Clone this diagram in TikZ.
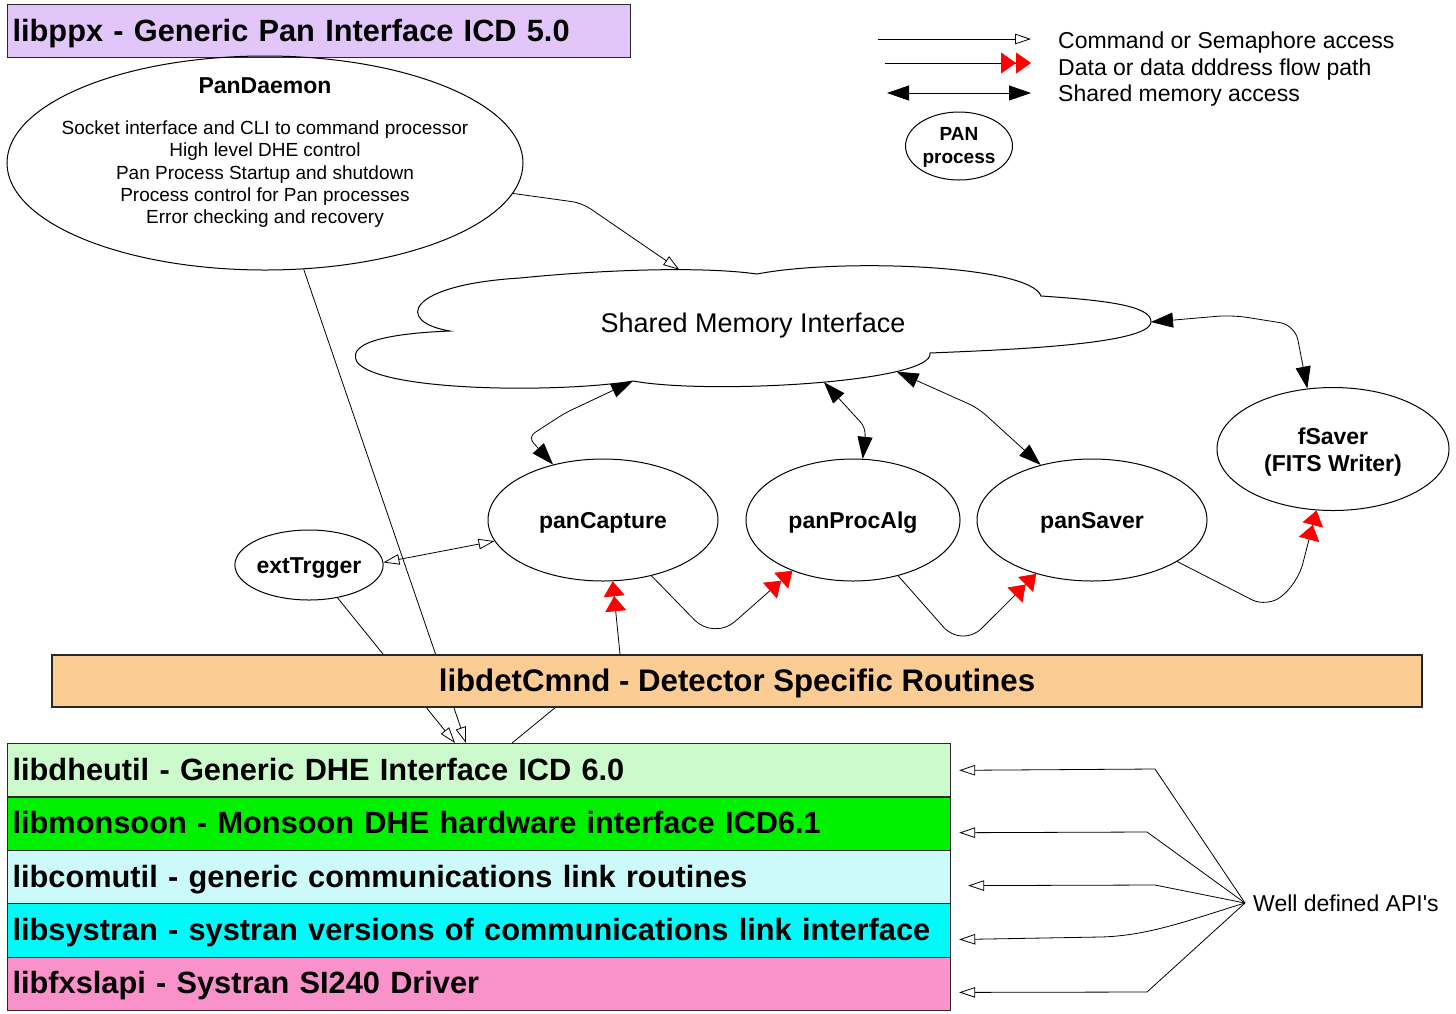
\documentclass[tikz,border=0pt]{standalone}
\usepackage{fontspec}
\setmainfont{Liberation Sans}
\usetikzlibrary{arrows.meta,shapes.geometric,calc}
\pgfdeclarelayer{bg}
\pgfsetlayers{bg,main}

\definecolor{ppxfill}{RGB}{226,198,250}
\definecolor{detfill}{RGB}{251,204,148}
\definecolor{dhefill}{RGB}{204,250,204}
\definecolor{monfill}{RGB}{0,240,0}
\definecolor{comfill}{RGB}{204,250,250}
\definecolor{sysfill}{RGB}{0,250,250}
\definecolor{fxsfill}{RGB}{249,146,202}
\definecolor{edge}{RGB}{40,40,40}

\tikzset{
  cmdhead/.tip={Triangle[open,length=16pt,width=10.5pt]},
  datahead/.tip={Triangle[red,length=15pt,width=21pt] Triangle[red,length=15pt,width=21pt]},
  shmhead/.tip={Triangle[length=22pt,width=15pt]},
  conn/.style={line width=0.8pt, draw=black},
  proc/.style={ellipse, draw, line width=1pt, inner sep=0pt, align=center,
    text height=19pt, text depth=2.5pt,
    font=\fontsize{23}{27}\selectfont\bfseries},
  libbar/.style={rectangle, draw=edge, line width=1.2pt, anchor=north west,
    minimum height=53.4pt, text width=933pt, inner xsep=5pt, inner ysep=0pt,
    align=left, text height=25pt, text depth=5pt,
    font=\fontsize{30.75}{36}\selectfont\bfseries},
  legendtext/.style={anchor=base west, inner sep=0pt, font=\fontsize{23}{27}\selectfont},
}

\newcommand{\pdtitle}{{\fontsize{23}{22}\selectfont\bfseries PanDaemon}}

\begin{document}
\begin{tikzpicture}[x=1pt,y=-1pt]
\useasboundingbox (0,0) rectangle (1456,1013);

% ---- top interface bar
\node[libbar, fill=ppxfill, text width=613pt, minimum height=53pt] (libppx) at (7,4)
  {libppx - Generic Pan Interface ICD 5.0};

% ---- daemon
\node[ellipse, draw, line width=1pt, inner sep=0pt, minimum width=516pt, minimum height=214pt]
  (PanDaemon) at (265,163) {};
\node[align=center, inner sep=0pt, font=\fontsize{19}{22.3}\selectfont] (pdText) at (265,152.5)
  {\pdtitle\\[19pt]
   Socket interface and CLI to command processor\\
   High level DHE control\\
   Pan Process Startup and shutdown\\
   Process control for Pan processes\\
   Error checking and recovery};

% ---- shared memory cloud
\draw[line width=1pt, fill=white] (450,331)
  .. controls (395,322) and (405,285) .. (520,278)
  .. controls (600,270) and (700,266) .. coordinate[pos=0.63] (smPD) (757,274)
  .. controls (840,258) and (1030,265) .. (1041,296)
  .. controls (1100,300) and (1152,305) .. (1151,322) coordinate (smFs)
  .. controls (1150,345) and (1000,350) .. (930,353)
  .. controls (935,382) and (710,395) .. coordinate[pos=0.25] (smSav) coordinate[pos=0.47] (smProc) (633,381) coordinate (smCap)
  .. controls (560,393) and (380,392) .. (357,362)
  .. controls (345,340) and (400,333) .. cycle;
\node[font=\fontsize{27}{32}\selectfont] (shm) at (753,326) {Shared Memory Interface};

% ---- processes
\node[proc, minimum width=230pt, minimum height=122pt] (panCapture) at (603,520) {panCapture};
\node[proc, minimum width=214pt, minimum height=122pt] (panProcAlg) at (853,520) {panProcAlg};
\node[proc, minimum width=230pt, minimum height=122pt] (panSaver) at (1092,520) {panSaver};
\node[proc, minimum width=232pt, minimum height=123pt, text height=46pt, text depth=1.5pt]
  (fSaver) at (1333,449) {fSaver\\(FITS Writer)};
\node[proc, minimum width=142pt, minimum height=70pt] (extTrgger) at (309,565) {extTrgger};

% ---- library stack
\node[rectangle, draw=edge, line width=1.2pt, fill=detfill, minimum width=1370pt,
  minimum height=52pt, text height=25pt, text depth=5pt,
  font=\fontsize{31.2}{36}\selectfont\bfseries] (libdetCmnd) at (737,681)
  {libdetCmnd - Detector Specific Routines};
\node[libbar, fill=dhefill] (libdheutil) at (7,743.0) {libdheutil - Generic DHE Interface ICD 6.0};
\node[libbar, fill=monfill] (libmonsoon) at (7,796.4) {libmonsoon - Monsoon DHE hardware interface ICD6.1};
\node[libbar, fill=comfill] (libcomutil) at (7,849.8) {libcomutil - generic communications link routines};
\node[libbar, fill=sysfill] (libsystran) at (7,903.2) {libsystran - systran versions of communications link interface};
\node[libbar, fill=fxsfill] (libfxslapi) at (7,956.6) {libfxslapi - Systran SI240 Driver};

\node[anchor=west, inner xsep=8pt, inner ysep=0pt, font=\fontsize{23}{27}\selectfont] (api) at (1245,903) {Well defined API\textquotesingle s};

% ---- legend
\coordinate (lgA1) at (878,39);  \coordinate (lgB1) at (1031,39);
\coordinate (lgA2) at (885,63);  \coordinate (lgB2) at (1031,63);
\coordinate (lgA3) at (887,93);  \coordinate (lgB3) at (1031,93);
\node[legendtext] (lgT1) at (1058,48) {Command or Semaphore access};
\node[legendtext] (lgT2) at (1058,75) {Data or data dddress flow path};
\node[legendtext] (lgT3) at (1058,101) {Shared memory access};
\node[proc, minimum width=107pt, minimum height=68pt, text height=37pt, text depth=1.4pt,
  font=\fontsize{19}{23}\selectfont\bfseries] (panKey) at (959,146) {PAN\\process};

\begin{pgfonlayer}{bg}
  % legend arrows
  \draw[conn, -cmdhead] (lgA1) -- (lgB1);
  \draw[conn, -datahead] (lgA2) -- (lgB2);
  \draw[conn, shmhead-shmhead] (lgA3) -- (lgB3);

  % command / semaphore access
  \draw[conn, -cmdhead, rounded corners=10pt] (PanDaemon.353) -- (582,203) -- (smPD);
  \draw[conn, -cmdhead] (PanDaemon.290) -- ($(libdheutil.north west)+(459,0)$);
  \draw[conn, -cmdhead] (extTrgger.311) -- ($(libdheutil.north west)+(448,0)$);
  \draw[conn, cmdhead-cmdhead] (extTrgger.2) -- (panCapture.191);

  % shared memory access
  \draw[conn, shmhead-shmhead, rounded corners=8pt] (smCap) -- (565,413) -- (528,437) -- (panCapture.132);
  \draw[conn, shmhead-shmhead, rounded corners=8pt] (smProc) -- (866,428) -- (panProcAlg.81);
  \draw[conn, shmhead-shmhead, rounded corners=10pt] (smSav) -- (978,408) -- (panSaver.133);
  \draw[conn, shmhead-shmhead, rounded corners=15pt] (smFs) -- (1232,315) -- (1295,325) -- (fSaver.113);

  % data flow
  \draw[conn, -datahead] ($(libdheutil.north west)+(505,0)$) -- (556,707) -- (620,654) -- (panCapture.279);
  \draw[conn, -datahead, rounded corners=28pt] (panCapture.311) -- (714,640) -- (panProcAlg.220);
  \draw[conn, -datahead, rounded corners=28pt] (panProcAlg.309) -- (962,648) -- (panSaver.224);
  \draw[conn, -datahead, rounded corners=18pt] (panSaver.334) -- (1268,608) -- (1298,582) -- (fSaver.255);

  % API pointers
  \draw[conn, -cmdhead] (api.west) -- (1155,769) -- ($(libdheutil.east)+(8,0)$);
  \draw[conn, -cmdhead] (api.west) -- (1147,832) -- ($(libmonsoon.east)+(8,9)$);
  \draw[conn, -cmdhead] (api.west) -- (1155,885) -- ($(libcomutil.east)+(17,8.5)$);
  \draw[conn, -cmdhead] (api.west) .. controls (1195,918) and (1150,936) .. (1100,937) -- ($(libsystran.east)+(8,9)$);
  \draw[conn, -cmdhead] (api.west) -- (1147,992) -- ($(libfxslapi.east)+(8,8.5)$);
\end{pgfonlayer}
\end{tikzpicture}
\end{document}
